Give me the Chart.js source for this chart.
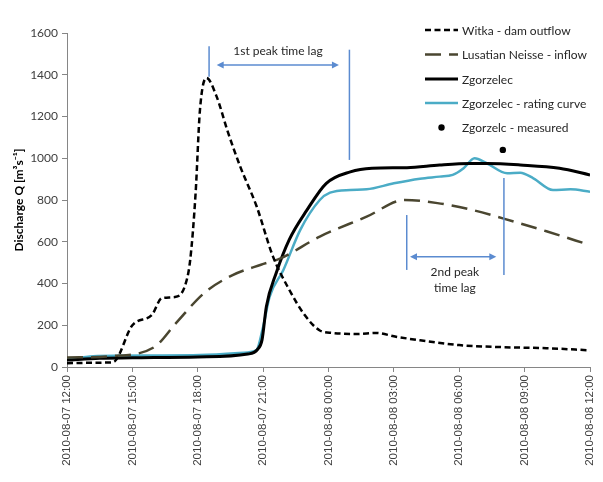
<!DOCTYPE html>
<html>
<head>
<meta charset="utf-8">
<script src="https://cdn.jsdelivr.net/npm/chart.js@4.4.1/dist/chart.umd.min.js"></script>
<style>
  html, body { margin: 0; padding: 0; background: #fff; }
</style>
</head>
<body>
<canvas id="chart" width="603" height="482"></canvas>
<script>
// x values are hours after 2010-08-07 12:00
const tickLabels = [
    "2010-08-07 12:00", "2010-08-07 15:00", "2010-08-07 18:00", "2010-08-07 21:00",
    "2010-08-08 00:00", "2010-08-08 03:00", "2010-08-08 06:00", "2010-08-08 09:00",
    "2010-08-08 12:00"
];

const witkaHours = [0, 1, 2, 2.2, 3, 3.9, 4.35, 4.95, 5.4, 5.65, 5.9, 6.1, 6.4, 6.85, 7.4, 7.95, 8.7, 9.45, 10.2, 10.9, 11.6, 12.2, 13.3, 14.2, 15.1, 16.2, 18, 20, 22, 24];
const witkaQ     = [18, 20, 22, 28, 200, 250, 330, 335, 385, 510, 830, 1230, 1385, 1300, 1120, 960, 770, 530, 370, 250, 175, 163, 158, 163, 145, 128, 105, 95, 90, 80];

const neisseHours = [0, 2, 4, 5, 6.3, 7.6, 8.9, 9.8, 11.6, 13.75, 15.5, 17, 18.5, 20, 22, 24];
const neisseQ     = [45, 52, 95, 210, 355, 440, 490, 520, 625, 720, 800, 785, 755, 712, 650, 584];

const zgorHours = [0, 1.5, 3, 6, 8.3, 8.75, 8.95, 9.15, 9.6, 10.2, 11, 11.9, 13, 14, 15.6, 17.1, 18.5, 19.3, 20.8, 22.6, 24];
const zgorQ     = [33, 42, 44, 48, 62, 85, 130, 290, 450, 610, 750, 880, 935, 952, 955, 968, 975, 975, 968, 952, 920];

const ratingHours = [0, 1.2, 4, 6.1, 8.3, 8.7, 9.0, 9.3, 9.93, 10.7, 11.6, 12.07, 13, 13.75, 15, 16.2, 17.1, 17.7, 18.2, 18.7, 19.26, 20.2, 20.8, 21.4, 22.3, 23.1, 24];
const ratingQ     = [35, 52, 55, 57, 70, 81, 193, 337, 465, 656, 800, 835, 848, 851, 880, 902, 912, 920, 952, 1000, 976, 928, 931, 904, 848, 851, 840];

const measuredHours = [20];
const measuredQ     = [1040];

// time-lag annotations, in data units
const lagLines = [
    { x: 6.52, from: 1390, to: 1537 },
    { x: 12.96, from: 992, to: 1520 },
    { x: 15.59, from: 465, to: 728 },
    { x: 20.05, from: 441, to: 905 }
];
const lagArrows = [
    { y: 1447, from: 6.87, to: 12.48 },
    { y: 528, from: 15.74, to: 19.7 }
];
const lagTexts = [
    { x: 9.68, y: 1511, text: "1st peak time lag" },
    { x: 17.8, y: 456, text: "2nd peak" },
    { x: 17.8, y: 377, text: "time lag" }
];

function toPoints(xs, ys) {
    return xs.map((x, i) => ({ x: x, y: ys[i] }));
}

const annoColor = "#5b8bd0";

const lagPlugin = {
    id: "lag",
    afterDatasetsDraw(chart) {
        const ctx = chart.ctx;
        const xs = chart.scales.x;
        const ys = chart.scales.y;
        ctx.save();
        ctx.strokeStyle = annoColor;
        ctx.fillStyle = annoColor;
        ctx.lineWidth = 1.5;
        lagLines.forEach(l => {
            const px = xs.getPixelForValue(l.x);
            ctx.beginPath();
            ctx.moveTo(px, ys.getPixelForValue(l.from));
            ctx.lineTo(px, ys.getPixelForValue(l.to));
            ctx.stroke();
        });
        lagArrows.forEach(a => {
            const py = ys.getPixelForValue(a.y);
            const x0 = xs.getPixelForValue(a.from);
            const x1 = xs.getPixelForValue(a.to);
            ctx.beginPath();
            ctx.moveTo(x0 + 4, py);
            ctx.lineTo(x1 - 4, py);
            ctx.stroke();
            [[x0, 1], [x1, -1]].forEach(([x, d]) => {
                ctx.beginPath();
                ctx.moveTo(x, py);
                ctx.lineTo(x + 7 * d, py - 3.5);
                ctx.lineTo(x + 7 * d, py + 3.5);
                ctx.closePath();
                ctx.fill();
            });
        });
        ctx.fillStyle = "#262626";
        ctx.font = "12px Lato";
        ctx.textAlign = "center";
        ctx.textBaseline = "middle";
        lagTexts.forEach(t => {
            ctx.fillText(t.text, xs.getPixelForValue(t.x), ys.getPixelForValue(t.y));
        });
        ctx.restore();
    }
};

// legend drawn over the plot, top right
const legendPlugin = {
    id: "sideLegend",
    afterDraw(chart) {
        const ctx = chart.ctx;
        const left = 425, right = 458, textX = 462;
        const rows = [30, 54.5, 79, 103, 127.5];
        ctx.save();
        ctx.font = "12px Lato";
        ctx.textBaseline = "middle";
        ctx.textAlign = "left";
        chart.data.datasets.forEach((ds, i) => {
            const y = rows[i];
            if (ds.showLine === false) {
                ctx.fillStyle = ds.pointBackgroundColor;
                ctx.beginPath();
                ctx.arc((left + right) / 2, y, 3.2, 0, Math.PI * 2);
                ctx.fill();
            } else {
                ctx.strokeStyle = ds.borderColor;
                ctx.lineWidth = ds.borderWidth;
                ctx.setLineDash(ds.borderDash || []);
                ctx.beginPath();
                ctx.moveTo(left, y);
                ctx.lineTo(right, y);
                ctx.stroke();
                ctx.setLineDash([]);
            }
            ctx.fillStyle = "#262626";
            ctx.fillText(ds.label, textX, y + 1);
        });
        ctx.restore();
    }
};

const lineCommon = {
    pointRadius: 0,
    fill: false,
    cubicInterpolationMode: "monotone",
    showLine: true
};

new Chart(document.getElementById("chart"), {
    type: "scatter",
    data: {
        datasets: [
            Object.assign({}, lineCommon, {
                label: "Witka - dam outflow",
                data: toPoints(witkaHours, witkaQ),
                borderColor: "#000000",
                borderWidth: 2.5,
                borderDash: [6, 3.5]
            }),
            Object.assign({}, lineCommon, {
                label: "Lusatian Neisse - inflow",
                data: toPoints(neisseHours, neisseQ),
                borderColor: "#4a4630",
                borderWidth: 2.5,
                borderDash: [16, 8]
            }),
            Object.assign({}, lineCommon, {
                label: "Zgorzelec",
                data: toPoints(zgorHours, zgorQ),
                borderColor: "#000000",
                borderWidth: 3
            }),
            Object.assign({}, lineCommon, {
                label: "Zgorzelec - rating curve",
                data: toPoints(ratingHours, ratingQ),
                borderColor: "#4bacc6",
                borderWidth: 2.5
            }),
            {
                label: "Zgorzelc - measured",
                data: toPoints(measuredHours, measuredQ),
                showLine: false,
                pointRadius: 3.2,
                pointBackgroundColor: "#000000",
                pointBorderWidth: 0
            }
        ]
    },
    options: {
        responsive: false,
        animation: false,
        layout: { padding: { top: 33, right: 13, left: 0, bottom: 0 } },
        plugins: {
            legend: { display: false },
            tooltip: { enabled: false }
        },
        scales: {
            x: {
                type: "linear",
                min: 0,
                max: 24,
                afterFit(scale) {
                    scale.height = 115;
                    scale.paddingLeft = 0;
                    scale.paddingRight = 4;
                },
                afterBuildTicks(scale) {
                    scale.ticks = tickLabels.map((_, i) => ({ value: i * 3 }));
                },
                ticks: {
                    autoSkip: false,
                    maxRotation: 90,
                    minRotation: 90,
                    color: "#404040",
                    font: { family: "Liberation Sans", size: 11.5 },
                    padding: 3,
                    callback: (v) => tickLabels[Math.round(v / 3)]
                },
                grid: { drawOnChartArea: false, drawTicks: true, tickLength: 5, color: "#868686" },
                border: { color: "#868686", width: 1 }
            },
            y: {
                min: 0,
                max: 1600,
                afterFit(scale) { scale.width = 67; },
                ticks: {
                    stepSize: 200,
                    color: "#404040",
                    font: { family: "Lato", size: 12 },
                    padding: 4,
                    callback: (v) => String(v)
                },
                grid: { drawOnChartArea: false, drawTicks: true, tickLength: 5, color: "#868686" },
                border: { color: "#868686", width: 1 },
                title: {
                    display: true,
                    text: "Discharge Q [m³s⁻¹]",
                    color: "#000000",
                    font: { family: "Lato", size: 12, weight: "bold" },
                    padding: { top: 12 }
                }
            }
        }
    },
    plugins: [lagPlugin, legendPlugin]
});
</script>
</body>
</html>
